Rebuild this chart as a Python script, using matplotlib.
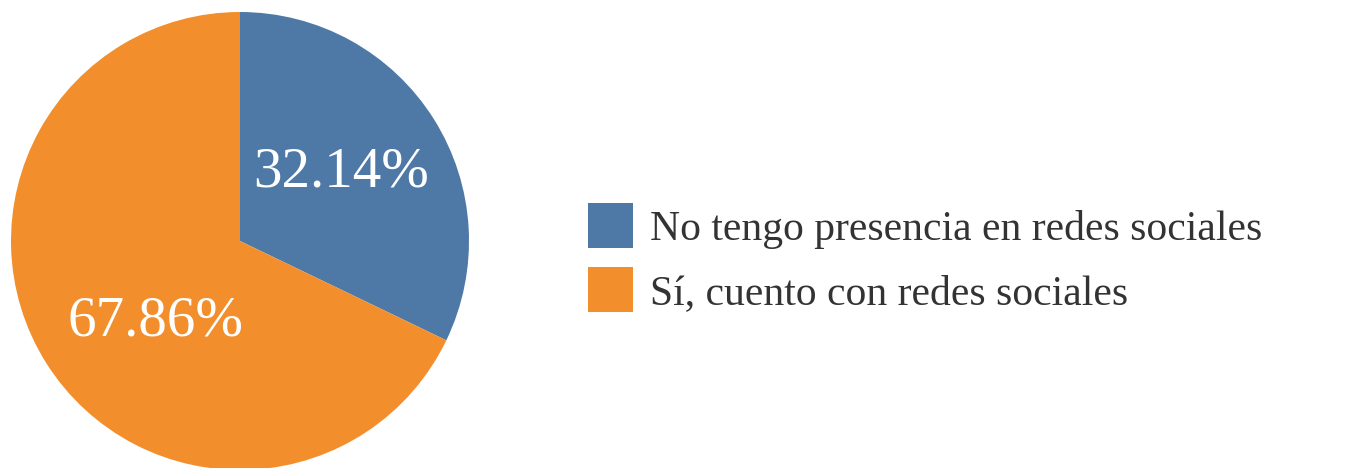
import matplotlib
matplotlib.use("Agg")
import matplotlib.pyplot as plt
from matplotlib.patches import Patch

categories = ["No tengo presencia en redes sociales", "Sí, cuento con redes sociales"]
values = [32.14, 67.86]
colors = ["#4E79A7", "#F28E2B"]
label_pos = [(0.44, 0.30), (-0.37, -0.35)]

plt.rcParams['font.family'] = ['Liberation Serif', 'DejaVu Serif']

W, H = 1351, 468
fig = plt.figure(figsize=(W / 100, H / 100), dpi=100)
cx, cy, r = 240, 468 - 241, 229
ax = fig.add_axes([(cx - r) / W, (cy - r) / H, 2 * r / W, 2 * r / H])
wedges, texts, autotexts = ax.pie(values, colors=colors, startangle=90, counterclock=False,
                                  autopct=lambda p: f"{p:.2f}%", pctdistance=0.52,
                                  textprops=dict(color="white", fontsize=41))
for w in wedges:
    w.set_clip_on(False)
for t, pos in zip(autotexts, label_pos):
    t.set_position(pos)
ax.set_xlim(-1, 1)
ax.set_ylim(-1, 1)
ax.set_aspect('equal')
ax.axis('off')

handles = [Patch(facecolor=c, edgecolor='none') for c in colors]
fs = 30
fig.legend(handles, categories, loc='center left', bbox_to_anchor=(588 / W, (468 - 258) / H),
           frameon=False, fontsize=fs, handlelength=1.08, handleheight=1.27,
           handletextpad=0.42, labelspacing=0.45, borderpad=0, borderaxespad=0,
           labelcolor='#333333')

fig.savefig("out.png", dpi=100)
